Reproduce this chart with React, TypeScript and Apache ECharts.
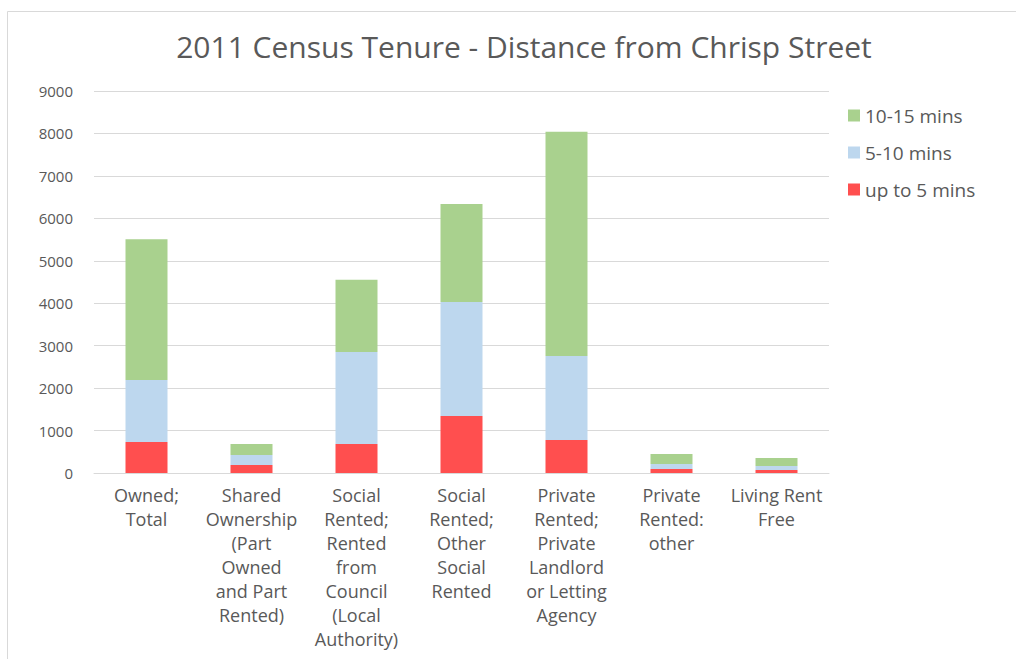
import React, { useEffect, useRef } from "react";
import * as echarts from "echarts";

const categories = [
  "Owned;\nTotal",
  "Shared\nOwnership\n(Part\nOwned\nand Part\nRented)",
  "Social\nRented;\nRented\nfrom\nCouncil\n(Local\nAuthority)",
  "Social\nRented;\nOther\nSocial\nRented",
  "Private\nRented;\nPrivate\nLandlord\nor Letting\nAgency",
  "Private\nRented:\nother",
  "Living Rent\nFree",
];
const upTo5 = [730, 190, 683, 1343, 778, 95, 70];
const from5to10 = [1460, 235, 2170, 2685, 1980, 117, 95];
const from10to15 = [3320, 260, 1700, 2310, 5280, 236, 190];
const yTicks = [0, 9000, 1000];

const FONT = "'Open Sans', sans-serif";
const TXT = "#595959";

export default function App() {
  const ref = useRef<HTMLDivElement>(null);
  useEffect(() => {
    document.body.style.margin = "0";
    const chart = echarts.init(ref.current!, null, { renderer: "svg" });
    chart.setOption({
      animation: false,
      backgroundColor: "#ffffff",
      textStyle: { fontFamily: FONT },
      title: {
        text: "2011 Census Tenure - Distance from Chrisp Street",
        left: 519,
        textAlign: "center",
        top: 26,
        textStyle: { fontFamily: FONT, fontSize: 30, fontWeight: "normal", color: TXT },
      },
      graphic: [
        {
          type: "rect",
          shape: { x: 7.5, y: 11.5, width: 1100, height: 700 },
          style: { fill: "none", stroke: "#d9d9d9", lineWidth: 1 },
          silent: true,
        },
      ],
      legend: {
        orient: "vertical",
        left: 843,
        top: 101,
        itemWidth: 12,
        itemHeight: 12,
        itemGap: 18,
        icon: "rect",
        data: ["10-15 mins", "5-10 mins", "up to 5 mins"],
        textStyle: { fontFamily: FONT, fontSize: 19, color: TXT },
      },
      grid: { left: 94, right: 187, top: 91, bottom: 186, containLabel: false },
      xAxis: {
        type: "category",
        data: categories,
        axisLine: { lineStyle: { color: "#d9d9d9" } },
        axisTick: { show: false },
        axisLabel: {
          interval: 0,
          color: TXT,
          fontFamily: FONT,
          fontSize: 18,
          lineHeight: 24,
          margin: 10,
          align: "center",
        },
      },
      yAxis: {
        type: "value",
        min: yTicks[0],
        max: yTicks[1],
        interval: yTicks[2],
        axisLine: { show: false },
        axisTick: { show: false },
        splitLine: { lineStyle: { color: "#d9d9d9" } },
        axisLabel: {
          color: TXT,
          fontFamily: FONT,
          fontSize: 15,
          margin: 21,
          formatter: (v: number) => String(v),
        },
      },
      series: [
        {
          name: "up to 5 mins",
          type: "bar",
          stack: "t",
          barWidth: "40%",
          data: upTo5,
          itemStyle: { color: "#ff4f4f" },
        },
        {
          name: "5-10 mins",
          type: "bar",
          stack: "t",
          data: from5to10,
          itemStyle: { color: "#bdd7ee" },
        },
        {
          name: "10-15 mins",
          type: "bar",
          stack: "t",
          data: from10to15,
          itemStyle: { color: "#a9d18e" },
        },
      ],
    });
    return () => chart.dispose();
  }, []);
  return <div ref={ref} style={{ width: 1016, height: 659 }} />;
}
